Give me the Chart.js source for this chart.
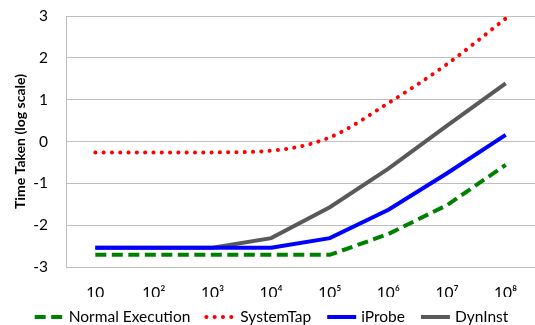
<!DOCTYPE html>
<html>
<head>
<meta charset="utf-8">
<script src="https://cdn.jsdelivr.net/npm/chart.js@4/dist/chart.umd.min.js"></script>
<style>
html,body{margin:0;padding:0;background:#fff;}
#wrap{width:535px;height:325px;position:relative;}
</style>
</head>
<body>
<div id="wrap"><canvas id="c" width="535" height="325"></canvas></div>
<script>
const categories = ['10','10²','10³','10⁴','10⁵','10⁶','10⁷','10⁸'];
const normalExecution = [-2.71,-2.71,-2.71,-2.71,-2.71,-2.21,-1.52,-0.56];
const systemTap = [-0.26,-0.26,-0.26,-0.22,0.10,0.92,1.85,2.94];
const iProbe = [-2.54,-2.54,-2.54,-2.54,-2.31,-1.63,-0.76,0.16];
const dynInst = [-2.54,-2.54,-2.54,-2.31,-1.57,-0.65,0.38,1.39];
const yTicks = [-3,-2,-1,0,1,2,3];
const yTitle = 'Time Taken (log scale)';

const FONT = 'Lato, "Noto Sans", sans-serif';

const lineLegend = {
  id:'lineLegend',
  afterDraw(chart){
    const ctx = chart.ctx;
    const ds = chart.data.datasets;
    const sampleW = 29, gapText = 5, gapItem = 16;
    ctx.save();
    ctx.font = '15.5px ' + FONT;
    const widths = ds.map(d => sampleW + gapText + ctx.measureText(d.label).width);
    const total = widths.reduce((a,b)=>a+b,0) + gapItem*(ds.length-1);
    let x = (chart.width - total)/2 + 4;
    const y = 317;
    ds.forEach((d,i)=>{
      ctx.beginPath();
      ctx.strokeStyle = d.borderColor;
      ctx.lineWidth = d.borderWidth;
      ctx.lineCap = d.borderCapStyle || 'butt';
      ctx.setLineDash(d.borderDash || []);
      ctx.moveTo(x, y);
      ctx.lineTo(x + sampleW, y);
      ctx.stroke();
      ctx.setLineDash([]);
      ctx.fillStyle = '#000';
      ctx.textBaseline = 'middle';
      ctx.textAlign = 'left';
      ctx.fillText(d.label, x + sampleW + gapText, y);
      x += widths[i] + gapItem;
    });
    // y axis title, centred on the plot area
    const a = chart.chartArea;
    ctx.translate(20, (a.top + a.bottom)/2);
    ctx.rotate(-Math.PI/2);
    ctx.font = 'bold 14px ' + FONT;
    ctx.textAlign = 'center';
    ctx.textBaseline = 'middle';
    ctx.fillStyle = '#000';
    ctx.fillText(yTitle, 0, 0);
    ctx.restore();
  }
};

new Chart(document.getElementById('c'), {
  type: 'line',
  data: {
    labels: categories,
    datasets: [
      {label:'Normal Execution', data: normalExecution, borderColor:'#008000', backgroundColor:'#008000',
       borderWidth:4, borderDash:[11,5.5], borderCapStyle:'butt', tension:0, pointRadius:0},
      {label:'SystemTap', data: systemTap, borderColor:'#ff0000', backgroundColor:'#ff0000',
       borderWidth:4, borderDash:[0.1,8.2], borderCapStyle:'round', cubicInterpolationMode:'monotone', pointRadius:0},
      {label:'iProbe', data: iProbe, borderColor:'#0000ff', backgroundColor:'#0000ff',
       borderWidth:4, tension:0, pointRadius:0},
      {label:'DynInst', data: dynInst, borderColor:'#595959', backgroundColor:'#595959',
       borderWidth:4, tension:0, pointRadius:0}
    ]
  },
  plugins:[lineLegend],
  options: {
    responsive:false,
    animation:false,
    devicePixelRatio:1,
    layout:{padding:{top:16,right:0,left:0,bottom:28}},
    plugins:{
      tooltip:{enabled:false},
      legend:{display:false}
    },
    scales:{
      x:{
        offset:true,
        grid:{display:false},
        border:{display:true,color:'#bfbfbf',width:1},
        ticks:{color:'#000',font:{family:FONT,size:15.5},padding:9,maxRotation:0,autoSkip:false},
        afterFit:(s)=>{s.height=30;}
      },
      y:{
        min:-3,max:3,
        afterBuildTicks:(s)=>{s.ticks = yTicks.map(v=>({value:v}));},
        grid:{color:'#bfbfbf',drawTicks:false,lineWidth:1},
        border:{display:true,color:'#bfbfbf',width:1},
        ticks:{color:'#000',font:{family:FONT,size:15.5},padding:18},
        title:{display:false},
        afterFit:(s)=>{s.width=66; s.paddingTop=0; s.paddingBottom=0;}
      }
    }
  }
});
</script>
</body>
</html>
